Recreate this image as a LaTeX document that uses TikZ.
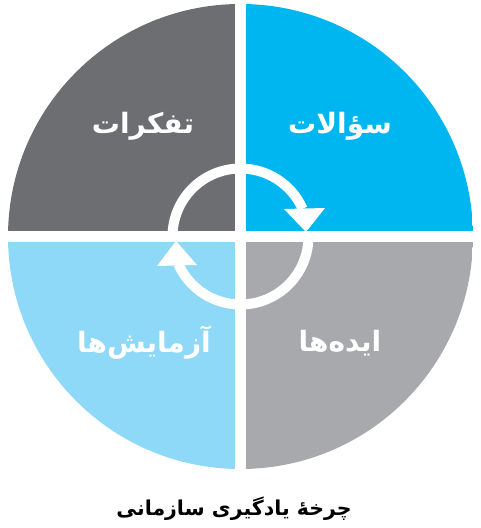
\documentclass[tikz,border=0pt]{standalone}
\usepackage{fontspec}
\usetikzlibrary{calc}
\TeXXeTstate=1
\newfontfamily\arabicfont[Script=Arabic]{DejaVu Sans}
\definecolor{qdark}{HTML}{6D6E71}
\definecolor{qcyan}{HTML}{00B6F0}
\definecolor{qlight}{HTML}{8ED8F8}
\definecolor{qgray}{HTML}{A7A9AC}
\tikzset{
  quadlabel/.style={text=white, font=\arabicfont\bfseries\fontsize{28}{32}\selectfont, inner sep=0pt},
  titlelabel/.style={text=black, font=\arabicfont\bfseries\fontsize{20.5}{24}\selectfont, inner sep=0pt},
  ringline/.style={white, line width=10pt},
  ringhead/.style={fill=white, draw=none}
}
\begin{document}
\begin{tikzpicture}[x=1pt,y=1pt]
\useasboundingbox (0,0) rectangle (480,528);
\coordinate (C) at (240.5,291.5);
\def\R{232.5}
\def\g{5.5}
\begin{scope}
  \clip (C) circle (\R);
  \fill[qdark]  ($(C)+(-\R,\g)$) rectangle ($(C)+(-\g,\R)$);
  \fill[qcyan]  ($(C)+(\g,\g)$) rectangle ($(C)+(\R,\R)$);
  \fill[qlight] ($(C)+(-\R,-\R)$) rectangle ($(C)+(-\g,-\g)$);
  \fill[qgray]  ($(C)+(\g,-\R)$) rectangle ($(C)+(\R,-\g)$);
\end{scope}
% ring
\draw[ringline] ($(C)+(180:68)$) arc[start angle=180, end angle=24, radius=68];
\draw[ringline] ($(C)+(0:68)$) arc[start angle=0, end angle=-156, radius=68];
\fill[ringhead] (306,296) -- (284,319) -- (325,320) -- cycle;
\fill[ringhead] (176,287) -- (157,262) -- (197,263) -- cycle;
% labels
\node[quadlabel] (thoughts) at (143,402) {\beginR تفکرات\endR};
\node[quadlabel] (questions) at (340,402) {\beginR سؤالات\endR};
\node[quadlabel] (tests) at (144,185) {\beginR آزمایش‌ها\endR};
\node[quadlabel] (ideas) at (340,185) {\beginR ایده‌ها\endR};
\node[titlelabel] (title) at (234,19) {\beginR چرخهٔ یادگیری سازمانی\endR};
\end{tikzpicture}
\end{document}
